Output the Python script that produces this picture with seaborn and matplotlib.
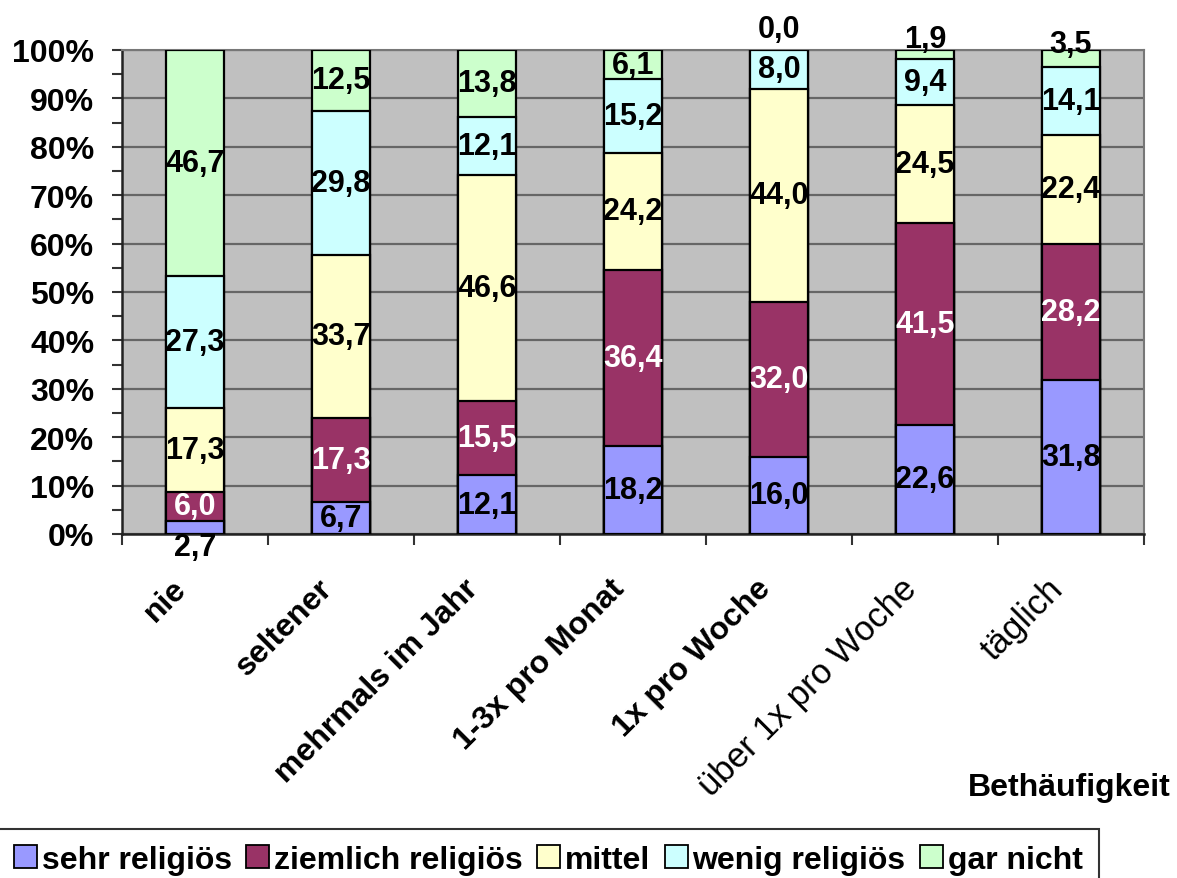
import matplotlib
matplotlib.use("Agg")
import matplotlib.pyplot as plt
import matplotlib.transforms as mtransforms
from matplotlib.patches import Patch
from matplotlib.ticker import MultipleLocator, FixedLocator
import numpy as np
import pandas as pd
import seaborn as sns

# Frequency of prayer (x categories)
categories = ["nie", "seltener", "mehrmals im Jahr", "1-3x pro Monat",
              "1x pro Woche", "über 1x pro Woche", "täglich"]

# Self-rated religiosity shares per category (percent)
series_names = ["sehr religiös", "ziemlich religiös", "mittel",
                "wenig religiös", "gar nicht"]
sehr_religioes = [2.7, 6.7, 12.1, 18.2, 16.0, 22.6, 31.8]
ziemlich_religioes = [6.0, 17.3, 15.5, 36.4, 32.0, 41.5, 28.2]
mittel = [17.3, 33.7, 46.6, 24.2, 44.0, 24.5, 22.4]
wenig_religioes = [27.3, 29.8, 12.1, 15.2, 8.0, 9.4, 14.1]
gar_nicht = [46.7, 12.5, 13.8, 6.1, 0.0, 1.9, 3.5]

colors = ["#9999FF", "#993366", "#FFFFCC", "#CCFFFF", "#CCFFCC"]
label_colors = ["black", "white", "black", "black", "black"]

sns.set_style("white")
plt.rcParams["font.family"] = ["Liberation Sans", "DejaVu Sans"]
plt.rcParams["text.color"] = "black"
plt.rcParams["xtick.color"] = "black"
plt.rcParams["ytick.color"] = "black"
plt.rcParams["axes.labelcolor"] = "black"

values = np.array([sehr_religioes, ziemlich_religioes, mittel,
                   wenig_religioes, gar_nicht])
shares = values / values.sum(axis=0) * 100.0
cum = np.cumsum(shares, axis=0)

W, H = 1177, 879
fig = plt.figure(figsize=(W / 100, H / 100), dpi=100)
ax = fig.add_axes([122 / W, 1 - 535 / H, (1144 - 122) / W, (535 - 51) / H])
ax.set_facecolor("#C0C0C0")

# 100% stacked bars: draw cumulative totals from the top series down
for i in range(len(series_names) - 1, -1, -1):
    df = pd.DataFrame({"cat": categories, "val": cum[i]})
    sns.barplot(data=df, x="cat", y="val", order=categories, color=colors[i],
                saturation=1, width=0.4, edgecolor="black", linewidth=1.6,
                ax=ax, zorder=3)

ax.set_xlim(-0.5, len(categories) - 0.5)
ax.set_ylim(0, 100)
ax.set_xlabel("")
ax.set_ylabel("")

# grid and ticks
ax.yaxis.set_minor_locator(MultipleLocator(5))
ax.set_yticks(np.arange(0, 101, 10))
ax.set_yticklabels([f"{int(v)}%" for v in np.arange(0, 101, 10)],
                   fontsize=23, fontweight="bold", color="black")
ax.grid(axis="y", which="major", color="#666666", linewidth=1.6, zorder=0)
ax.set_axisbelow(True)
ax.tick_params(axis="y", which="both", direction="out", length=7,
               width=1.5, color="#333333", pad=13, left=True)
ax.xaxis.set_minor_locator(FixedLocator(np.arange(-0.5, len(categories), 1.0)))
ax.tick_params(axis="x", which="major", length=0, pad=0)
ax.tick_params(axis="x", which="minor", direction="out", length=8,
               width=1.5, color="#333333", bottom=True)

for side in ["top", "right"]:
    ax.spines[side].set_color("#777777")
    ax.spines[side].set_linewidth(1.5)
for side in ["left", "bottom"]:
    ax.spines[side].set_color("#222222")
    ax.spines[side].set_linewidth(1.8)

ax.set_xticks(range(len(categories)))
ax.set_xticklabels(categories, rotation=45, ha="right", va="center",
                   rotation_mode="anchor", fontsize=23, fontweight="bold",
                   color="black")
for j, lab in enumerate(ax.get_xticklabels()):
    if j >= 5:
        lab.set_fontweight("normal")
        lab.set_fontsize(25)
        dx, dy = -13, -49
    else:
        dx, dy = -13, -50
    lab.set_transform(lab.get_transform() +
                      mtransforms.ScaledTranslation(dx / 100, dy / 100,
                                                    fig.dpi_scale_trans))

# segment value labels (pixel offsets for the crowded thin segments)
label_offsets = {(0, 0): -20, (4, 4): 21, (5, 4): 16, (6, 4): 14}
for i in range(len(series_names)):
    for j in range(len(categories)):
        v = values[i, j]
        y = cum[i, j] - shares[i, j] / 2
        off = label_offsets.get((j, i), 0)
        t = ax.text(j, y, f"{v:.1f}".replace(".", ","), ha="center",
                    va="center", fontsize=22, fontweight="bold",
                    color=label_colors[i], zorder=5, clip_on=False)
        if off:
            t.set_transform(ax.transData +
                            mtransforms.ScaledTranslation(0, off / 100,
                                                          fig.dpi_scale_trans))

fig.text(1171 / W, 1 - 788 / H, "Bethäufigkeit", ha="right", va="center",
         fontsize=23, fontweight="bold", color="black")

handles = [Patch(facecolor=c, edgecolor="black", linewidth=1.3) for c in colors]
leg = fig.legend(handles, series_names, loc="upper left",
                 bbox_to_anchor=(-2 / W, 1 - 830 / H), ncol=5,
                 prop={"size": 23, "weight": "bold"}, frameon=True,
                 fancybox=False, edgecolor="black", handlelength=0.72,
                 handleheight=0.72, handletextpad=0.15, columnspacing=0.45,
                 borderpad=0.5, borderaxespad=0)
leg.get_frame().set_linewidth(1.5)
for txt in leg.get_texts():
    txt.set_color("black")

fig.savefig("out.png", dpi=100, facecolor="white")
